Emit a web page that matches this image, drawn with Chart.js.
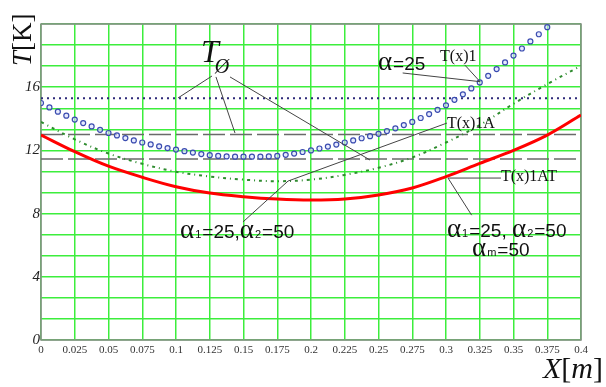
<!DOCTYPE html>
<html>
<head>
<meta charset="utf-8">
<script src="https://cdn.jsdelivr.net/npm/chart.js@4.4.0/dist/chart.umd.min.js"></script>
<style>
  html, body { margin: 0; padding: 0; background: #fff; }
  #wrap { width: 606px; height: 387px; }
</style>
</head>
<body>
<div id="wrap"><canvas id="tempChart" width="606" height="387"></canvas></div>
<script>
// x grid of the coarse curves (m)
const xCoarse = [0, 0.025, 0.05, 0.075, 0.1, 0.125, 0.15, 0.175, 0.2,
  0.225, 0.25, 0.275, 0.3, 0.325, 0.35, 0.375, 0.4];
// x grid of the marker curve T(x)1 (one marker every 0.00625 m)
const xFine = Array.from({ length: 61 }, (_, i) => i * 0.00625);

// T(x)1, alpha = 25 (blue circles)
const tx1 = [15.0, 14.72, 14.45, 14.2, 13.95, 13.73, 13.52, 13.3, 13.1, 12.95,
  12.78, 12.63, 12.5, 12.38, 12.26, 12.15, 12.05, 11.95, 11.86, 11.77,
  11.7, 11.65, 11.62, 11.6, 11.6, 11.6, 11.6, 11.62, 11.65, 11.72,
  11.8, 11.9, 12.0, 12.12, 12.24, 12.37, 12.5, 12.63, 12.77, 12.9,
  13.05, 13.22, 13.4, 13.6, 13.8, 14.05, 14.3, 14.57, 14.85, 15.2,
  15.55, 15.92, 16.3, 16.72, 17.15, 17.57, 18.0, 18.45, 18.9, 19.35, 19.8];
// T(x)1A, alpha1 = 25, alpha2 = 50 (green dash-dot)
const tx1A = [13.8, 12.7, 11.8, 11.15, 10.65, 10.35, 10.15, 10.05, 10.15,
  10.45, 10.9, 11.55, 12.5, 13.6, 14.95, 16.2, 17.35];
// T(x)1AT, alpha1 = 25, alpha2 = 50, alpham = 50 (red)
const tx1AT = [12.97, 11.92, 11.0, 10.3, 9.7, 9.3, 9.07, 8.92, 8.86,
  8.92, 9.18, 9.62, 10.34, 11.18, 12.0, 12.97, 14.24];
// ambient temperatures T_Ø
const tAmbient = [15.3, 13.0, 11.45];

const xTickLabels = ['0', '0.025', '0.05', '0.075', '0.1', '0.125', '0.15', '0.175', '0.2',
  '0.225', '0.25', '0.275', '0.3', '0.325', '0.35', '0.375', '0.4'];
const yLabelled = [0, 4, 8, 12, 16];
const yStep = 4 / 3;
const yMax = 20;

const pts = (xs, ys) => ys.map((y, i) => ({ x: xs[i], y: y }));
const flat = (t) => [{ x: 0, y: t }, { x: 0.4, y: t }];

const SERIF = '"Liberation Serif", "Times New Roman", serif';
const SANS = '"Liberation Sans", Arial, sans-serif';
const ALPHA = '27px ' + SERIF;

// annotations, anchored in data units
const notes = [
  { at: [0.1185, 17.6], runs: [['T', 'italic 32px ' + SERIF], ['Ø', 'italic 20px ' + SERIF, -4, 11]] },
  { at: [0.2496, 17.09], runs: [['α', ALPHA], ['=25', '19px ' + SANS, 1]] },
  { at: [0.2956, 17.66], runs: [['T(x)1', '16px ' + SERIF]] },
  { at: [0.3007, 13.42], runs: [['T(x)1A', '16px ' + SERIF]] },
  { at: [0.3407, 10.06], runs: [['T(x)1AT', '16px ' + SERIF]] },
  { at: [0.103, 6.46], runs: [['α', ALPHA], ['1', '11px ' + SANS, 1], ['=25,', '19px ' + SANS, 1],
    ['α', ALPHA], ['2', '11px ' + SANS, 1], ['=50', '19px ' + SANS, 1]] },
  { at: [0.3007, 6.52], runs: [['α', ALPHA], ['1', '11px ' + SANS, 1], ['=25, ', '19px ' + SANS, 1],
    ['α', ALPHA], ['2', '11px ' + SANS, 1], ['=50', '19px ' + SANS, 1]] },
  { at: [0.3193, 5.32], runs: [['α', ALPHA], ['m', '11px ' + SANS, 1], ['=50', '19px ' + SANS, 1]] }
];
const leaders = [
  [[0.1267, 16.71], [0.1015, 15.32]],
  [[0.1296, 16.65], [0.1437, 13.1]],
  [[0.14, 16.65], [0.2437, 11.39]],
  [[0.2679, 16.9], [0.3252, 16.35]],
  [[0.314, 17.4], [0.3252, 16.35]],
  [[0.3007, 13.73], [0.183, 10.06], [0.1496, 7.47]],
  [[0.3015, 10.25], [0.3407, 10.25]],
  [[0.3015, 10.25], [0.319, 7.9]]
];

const frame = {
  id: 'frame',
  beforeDatasetsDraw(chart) {
    const { ctx, chartArea: a } = chart;
    ctx.save();
    ctx.strokeStyle = '#8a8a8a';
    ctx.lineWidth = 1.5;
    ctx.strokeRect(a.left, a.top, a.right - a.left, a.bottom - a.top);
    ctx.restore();
  }
};

const labels = {
  id: 'labels',
  afterDatasetsDraw(chart) {
    const { ctx, scales: { x, y } } = chart;
    ctx.save();
    ctx.strokeStyle = '#444';
    ctx.lineWidth = 1;
    leaders.forEach(line => {
      ctx.beginPath();
      line.forEach((p, i) => {
        const px = x.getPixelForValue(p[0]);
        const py = y.getPixelForValue(p[1]);
        if (i === 0) ctx.moveTo(px, py); else ctx.lineTo(px, py);
      });
      ctx.stroke();
    });
    ctx.fillStyle = '#111';
    ctx.textBaseline = 'alphabetic';
    notes.forEach(n => {
      let px = x.getPixelForValue(n.at[0]);
      const py = y.getPixelForValue(n.at[1]);
      n.runs.forEach(r => {
        const dx = r[2] || 0;
        const dy = r[3] || 0;
        ctx.font = r[1];
        ctx.fillText(r[0], px + dx, py + dy);
        px += dx + ctx.measureText(r[0]).width;
      });
    });

    // axis titles
    ctx.font = 'italic 27px ' + SERIF;
    ctx.save();
    ctx.translate(31, 66);
    ctx.rotate(-Math.PI / 2);
    ctx.fillText('T', 0, 0);
    let w = ctx.measureText('T').width;
    ctx.font = '27px ' + SERIF;
    ctx.fillText('[K]', w, 0);
    ctx.restore();

    ctx.font = 'italic 30px ' + SERIF;
    ctx.fillText('X', 543, 378);
    w = ctx.measureText('X').width;
    ctx.font = '30px ' + SERIF;
    ctx.fillText('[', 543 + w, 378);
    const w2 = ctx.measureText('[').width;
    ctx.font = 'italic 30px ' + SERIF;
    ctx.fillText('m', 543 + w + w2, 378);
    const w3 = ctx.measureText('m').width;
    ctx.font = '30px ' + SERIF;
    ctx.fillText(']', 543 + w + w2 + w3, 378);
    ctx.restore();
  }
};

new Chart(document.getElementById('tempChart'), {
  type: 'scatter',
  data: {
    datasets: [
      {
        label: 'T(x)1AT',
        data: pts(xCoarse, tx1AT),
        showLine: true,
        borderColor: '#ff0000',
        borderWidth: 3,
        pointRadius: 0,
        tension: 0.35
      },
      {
        label: 'T(x)1A',
        data: pts(xCoarse, tx1A),
        showLine: true,
        borderColor: '#2e8b2e',
        borderWidth: 2,
        borderDash: [3, 4, 1, 4],
        pointRadius: 0,
        tension: 0.35
      },
      {
        label: 'T(x)1',
        data: pts(xFine, tx1),
        showLine: false,
        pointRadius: 2.5,
        pointBorderWidth: 1.2,
        pointBorderColor: '#3b4cb0',
        pointBackgroundColor: 'rgba(215, 222, 255, 0.6)'
      },
      {
        label: 'T0 a',
        data: flat(tAmbient[0]),
        showLine: true,
        borderColor: '#2e2a7a',
        borderWidth: 2,
        borderDash: [2, 4],
        pointRadius: 0
      },
      {
        label: 'T0 b',
        data: flat(tAmbient[1]),
        showLine: true,
        borderColor: '#6a6a6a',
        borderWidth: 1.5,
        borderDash: [22, 5],
        pointRadius: 0
      },
      {
        label: 'T0 c',
        data: flat(tAmbient[2]),
        showLine: true,
        borderColor: '#6a6a6a',
        borderWidth: 1.5,
        borderDash: [22, 5],
        pointRadius: 0
      }
    ]
  },
  options: {
    responsive: false,
    animation: false,
    layout: { padding: { left: 0, top: 24, right: 25, bottom: 0 } },
    plugins: {
      legend: { display: false },
      tooltip: { enabled: false }
    },
    scales: {
      x: {
        type: 'linear',
        min: 0,
        max: 0.4,
        afterBuildTicks: s => { s.ticks = xCoarse.map(v => ({ value: v })); },
        afterFit: s => { s.height = 47; s.paddingLeft = 0; s.paddingRight = 0; },
        border: { display: false },
        grid: { color: '#3cee3c', lineWidth: 1.5, drawTicks: false },
        ticks: {
          padding: 4,
          color: '#333',
          maxRotation: 0,
          autoSkip: false,
          font: { family: 'Liberation Serif', size: 11 },
          callback: (v, i) => xTickLabels[i]
        }
      },
      y: {
        min: 0,
        max: yMax,
        afterBuildTicks: s => {
          const t = [];
          for (let i = 0; i <= 15; i++) t.push({ value: i * yStep });
          s.ticks = t;
        },
        afterFit: s => { s.width = 41; s.paddingTop = 0; s.paddingBottom = 0; },
        border: { display: false },
        grid: { color: '#3cee3c', lineWidth: 1.5, drawTicks: false },
        ticks: {
          padding: 1,
          color: '#222',
          autoSkip: false,
          font: { family: 'Liberation Serif', size: 15, style: 'italic' },
          callback: v => {
            const hit = yLabelled.find(l => Math.abs(l - v) < 1e-6);
            return hit === undefined ? '' : String(hit);
          }
        }
      }
    }
  },
  plugins: [frame, labels]
});
</script>
</body>
</html>
